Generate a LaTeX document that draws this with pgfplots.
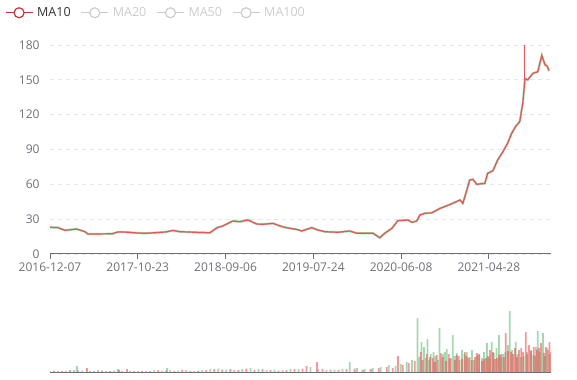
\documentclass[border=0pt]{standalone}
\usepackage{fontspec}
\setmainfont{Open Sans}
\usepackage{pgfplots}
\pgfplotsset{compat=1.18}
\usepackage{pgfplotstable}
\definecolor{upred}{HTML}{EB5454}
\definecolor{downgreen}{HTML}{47B262}
\definecolor{malinered}{HTML}{C23531}
\definecolor{axisgray}{HTML}{6E7079}
\definecolor{gridgray}{HTML}{E0E6F1}
\definecolor{offgray}{HTML}{CCCCCC}
\newcommand{\legfont}{\fontsize{12.5bp}{15bp}\selectfont}

\pgfplotstableread{
idx price
0 23.0
20 22.7
37 20.4
67 21.5
87 19.2
95 17.2
125 17.3
155 17.4
170 19.0
192 18.8
214 18.2
237 17.8
269 18.5
289 19.0
307 20.3
324 19.2
342 19.0
369 18.6
399 18.3
417 22.7
431 24.1
456 28.4
474 27.8
494 29.3
516 25.8
531 25.6
556 26.4
581 23.3
599 22.1
619 20.9
628 19.8
653 22.7
668 20.7
686 19.2
718 18.7
748 19.8
766 17.8
806 17.8
823 14.0
835 17.8
853 22.1
868 28.7
893 29.3
903 27.3
915 28.4
923 33.6
935 35.0
953 35.5
973 39.3
990 41.5
1005 43.7
1023 46.5
1030 43.7
1040 55.0
1047 63.7
1055 64.3
1065 60.0
1075 60.5
1085 60.9
1092 69.5
1105 71.7
1117 81.0
1130 88.0
1142 95.6
1152 104.0
1162 110.0
1172 114.0
1180 131.0
1185 151.0
1192 150.0
1205 155.6
1217 157.0
1227 171.0
1235 163.0
1240 162.0
1245 158.0
}\price

\pgfplotstableread{
idx vol
10 1.5
30 1
50 2
70 1.5
92 4
110 1
130 1.5
150 1
172 2
192 3
210 1
230 1.5
250 1
270 2
290 1.5
310 1
330 2.5
350 1
370 1.5
390 2
410 3
430 2.5
450 3
470 2
490 3.5
510 2
530 3
550 2
570 1.5
590 2
610 3
630 3.5
640 6
666 10
680 3
700 2.5
720 2
740 3
760 3.5
780 2
800 3
820 4
840 5
855 4
868 16
880 7
895 9
910 11
925 20
930 12
940 18
948 15
955 14
960 10
965 17
975 19
980 15
988 11
995 18
1000 14
1010 12
1015 17
1020 16
1028 13
1035 20
1040 16
1045 14
1052 12
1060 15
1065 19
1070 18
1078 11
1083 13
1088 14
1093 16
1098 22
1105 20
1110 13
1115 14
1120 17
1125 18
1132 15
1137 39
1143 21
1150 20
1155 18
1160 24
1165 15
1170 22
1176 24
1180 20
1187 40
1190 18
1195 27
1200 21
1207 25
1211 16
1215 22
1220 24
1225 29
1232 19
1237 25
1243 22
1246 30
1248 20
}\volred

\pgfplotstableread{
idx vol
0 1
20 1.5
40 1
60 2
67 6
80 1.5
100 1
120 2
140 1
160 1.5
170 3
180 1
200 1.5
220 1
240 1
260 2
280 1.5
292 4
300 2
320 1.5
340 2
360 1
380 2
400 3
420 3.5
440 2.5
460 2
480 3
500 4
520 3
540 2
560 2.5
580 2
600 3
620 3
650 5
670 3
690 2
710 2.5
730 3
748 10
766 4
785 3
805 4
825 5
845 7
862 6
875 8
890 10
903 12
917 54
921 15
927 30
933 25
937 14
942 33
945 12
950 18
957 20
962 16
968 12
972 44
980 18
985 20
990 23
997 13
1005 37
1010 16
1015 19
1022 12
1028 22
1034 18
1040 20
1047 15
1053 22
1058 12
1065 16
1071 17
1078 14
1083 20
1090 29
1095 14
1100 17
1102 30
1107 19
1114 24
1120 37
1125 15
1130 18
1136 20
1142 27
1147 61
1153 22
1162 30
1167 18
1175 15
1182 16
1190 20
1200 22
1206 17
1212 25
1217 41
1222 20
1230 39
1235 16
1240 24
1246 18
}\volgreen

\begin{document}
\begin{tikzpicture}
\useasboundingbox (0,0) rectangle (577bp,380bp);
\begin{axis}[
  at={(50bp,126bp)}, anchor=south west,
  scale only axis, width=501bp, height=209bp,
  xmin=0, xmax=1250, ymin=0, ymax=180,
  ytick={0,30,...,180},
  xtick={0,219,438,657,876,1095},
  xticklabels={2016-12-07,2017-10-23,2018-09-06,2019-07-24,2020-06-08,2021-04-28},
  axis x line*=bottom, axis y line*=left,
  axis line style={-},
  x axis line style={axisgray, line width=1bp},
  y axis line style={draw=none},
  ytick style={draw=none},
  xtick style={axisgray, line width=1bp},
  tick align=outside, major tick length=5bp,
  ymajorgrids,
  major grid style={gridgray, line width=0.8bp, dash pattern=on 4bp off 4bp},
  /pgf/number format/assume math mode=true,
  tick label style={font=\fontsize{12bp}{14bp}\selectfont, text=axisgray},
  yticklabel style={xshift=-2bp},
  legend style={at={(0,1)}, anchor=north west, xshift=-45bp, yshift=39.5bp,
    draw=none, fill=none, inner sep=0pt, outer sep=0pt,
    font=\legfont,
    /tikz/every odd column/.append style={column sep=2bp},
    /tikz/every even column/.append style={column sep=8bp}},
  legend columns=-1,
  legend image code/.code={
    \draw[#1, line width=1.2bp] (0bp,0bp) -- (27bp,0bp);
    \draw[#1, line width=1.2bp, fill=white] (13.5bp,0bp) circle (5bp);
  },
]
\addplot[downgreen, opacity=0.5, line width=2.2bp, forget plot] table[x=idx, y=price] {\price};
\addplot[upred, line width=1.2bp, forget plot] table[x=idx, y=price] {\price};
\addplot[upred, line width=0.8bp, forget plot] coordinates {(1184,148) (1184,180)};
\addlegendimage{malinered}
\addlegendentry{\legfont\textcolor[HTML]{333333}{MA10}}
\addlegendimage{offgray}
\addlegendentry{\legfont\textcolor{offgray}{MA20}}
\addlegendimage{offgray}
\addlegendentry{\legfont\textcolor{offgray}{MA50}}
\addlegendimage{offgray}
\addlegendentry{\legfont\textcolor{offgray}{MA100}}
\end{axis}

\begin{axis}[
  at={(50bp,8bp)}, anchor=south west,
  scale only axis, width=501bp, height=65bp,
  xmin=0, xmax=1250, ymin=0, ymax=65,
  axis x line*=bottom, axis y line=none,
  xtick=\empty, ytick=\empty,
  axis line style={-, axisgray, line width=1bp},
  ybar, bar width=1.8bp,
]
\addplot[fill=downgreen, fill opacity=0.5, draw=none, bar shift=0pt] table[x=idx, y=vol] {\volgreen};
\addplot[fill=upred, fill opacity=0.6, draw=none, bar shift=0pt] table[x=idx, y=vol] {\volred};
\end{axis}
\end{tikzpicture}
\end{document}
